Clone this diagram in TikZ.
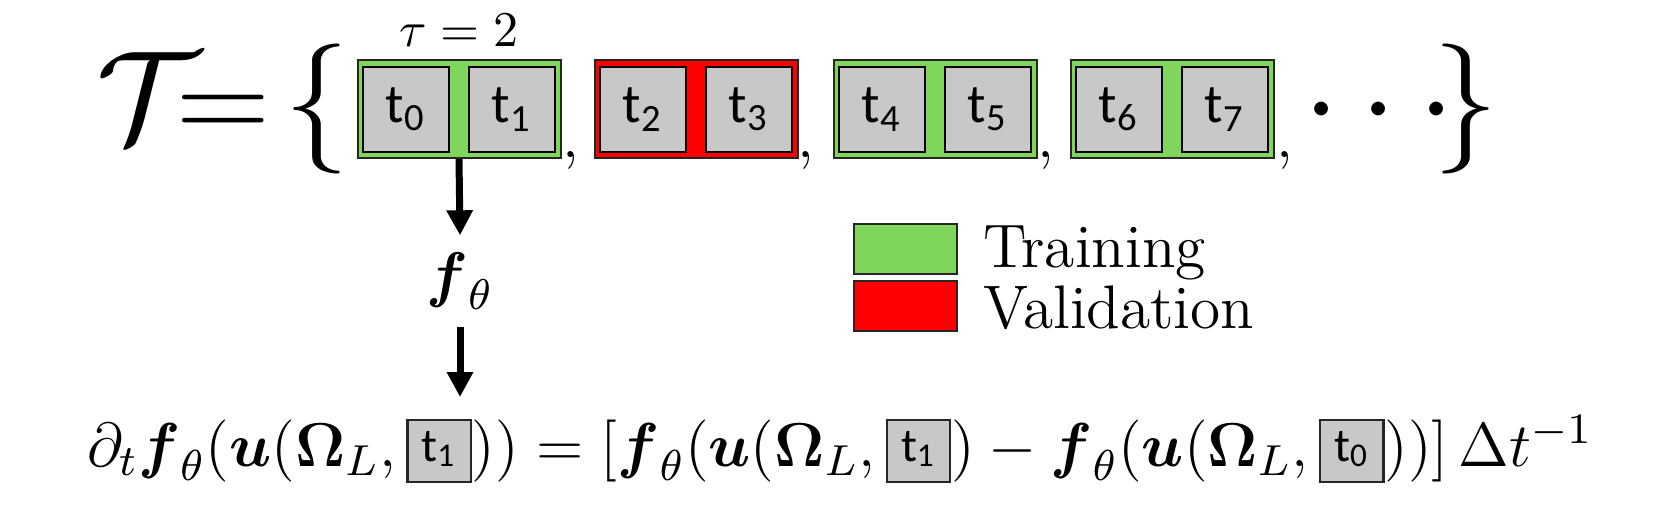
\RequirePackage{fix-cm}
\documentclass[tikz,border=0pt]{standalone}
\usepackage{amsmath}
\usepackage{fontspec}
\newfontfamily\cellfont{Carlito}
\usetikzlibrary{arrows.meta}

\definecolor{traingreen}{RGB}{128,214,92}
\definecolor{valred}{RGB}{255,0,0}
\definecolor{cellgray}{RGB}{200,200,200}

% small time-step box used inside the formula
\newcommand{\tstep}[1]{\mbox{\setlength{\fboxsep}{0pt}\setlength{\fboxrule}{0.45pt}%
  \fcolorbox{black!85}{cellgray}{\makebox[12.2pt]{\rule[-3pt]{0pt}{12pt}%
  \raisebox{1pt}{\cellfont\fontsize{9.5}{11}\selectfont t\textsubscript{#1}}}}}}

\begin{document}
\begin{tikzpicture}[x=0.2pt,y=-0.2pt,
    font=\fontsize{12.3}{14.8}\selectfont,
    group/.style={draw=black!85,line width=0.4pt,minimum width=40.6pt,minimum height=19.6pt,inner sep=0pt},
    cell/.style={draw=black,line width=0.5pt,fill=cellgray,minimum width=17.2pt,minimum height=17pt,inner sep=0pt,
                 font=\cellfont\fontsize{11}{13}\selectfont},
    big/.style={anchor=base,inner sep=0pt,font=\fontsize{26}{31}\selectfont},
    sep/.style={anchor=base,inner sep=0pt},
    legbox/.style={draw=black!85,line width=0.4pt,minimum width=20.6pt,minimum height=10pt,inner sep=0pt},
    flow/.style={-{Triangle[length=5pt,width=5pt]},line width=1.4pt}]
\useasboundingbox (0,0) rectangle (1661,513);

% the set of windows
\node[big,anchor=base west] (T)  at (96,141)   {$\mathcal{T}$};
\node[big] (eqs) at (223,141)   {$=$};
\node[big] (lb)  at (316.5,141) {$\{$};

\node[group,fill=traingreen] (g1) at (459,109)  {};
\node[group,fill=valred]     (g2) at (696,109)  {};
\node[group,fill=traingreen] (g3) at (935,109)  {};
\node[group,fill=traingreen] (g4) at (1172,109) {};

\node[cell] (c0) at (406,109.5)  {t\textsubscript{0}};
\node[cell] (c1) at (512,109.5)  {t\textsubscript{1}};
\node[cell] (c2) at (643,109.5)  {t\textsubscript{2}};
\node[cell] (c3) at (749,109.5)  {t\textsubscript{3}};
\node[cell] (c4) at (882,109.5)  {t\textsubscript{4}};
\node[cell] (c5) at (988,109.5)  {t\textsubscript{5}};
\node[cell] (c6) at (1119,109.5) {t\textsubscript{6}};
\node[cell] (c7) at (1225,109.5) {t\textsubscript{7}};

\node[sep] (s1) at (571,157)  {,};
\node[sep] (s2) at (806,157)  {,};
\node[sep] (s3) at (1046,157) {,};
\node[sep] (s4) at (1285,157) {,};

\node[big] (dots) at (1390,141) {$\cdots$};
\node[big] (rb)   at (1466,141) {$\}$};

\node[anchor=base,inner sep=0pt,font=\fontsize{10}{12}\selectfont] (tau) at (459,46) {$\tau = 2$};

% model and its output
\node[anchor=base,inner xsep=0pt,inner ysep=3.2pt] (fth) at (460,295) {$\boldsymbol{f}_{\theta}$};
\coordinate (tip) at (460,397);

\draw[flow] (g1.south) -- (fth.north);
\draw[flow] (fth.south) -- (tip);

\node[anchor=base west,inner sep=0pt,font=\fontsize{12.4}{15}\selectfont] (eq) at (86,466)
  {$\partial_t \boldsymbol{f}_{\theta}(\boldsymbol{u}(\boldsymbol{\Omega}_L,\tstep{1}))
    =[\boldsymbol{f}_{\theta}(\boldsymbol{u}(\boldsymbol{\Omega}_L,\tstep{1})
    -\boldsymbol{f}_{\theta}(\boldsymbol{u}(\boldsymbol{\Omega}_L,\tstep{0}))]\,\Delta t^{-1}$};

% legend
\node[legbox,fill=traingreen] (lg) at (905.5,249) {};
\node[legbox,fill=valred]     (lr) at (905.5,306) {};
\node[anchor=base west,inner sep=0pt] (ltrain) at (982,267) {Training};
\node[anchor=base west,inner sep=0pt] (lval)   at (982,328) {Validation};
\end{tikzpicture}
\end{document}
